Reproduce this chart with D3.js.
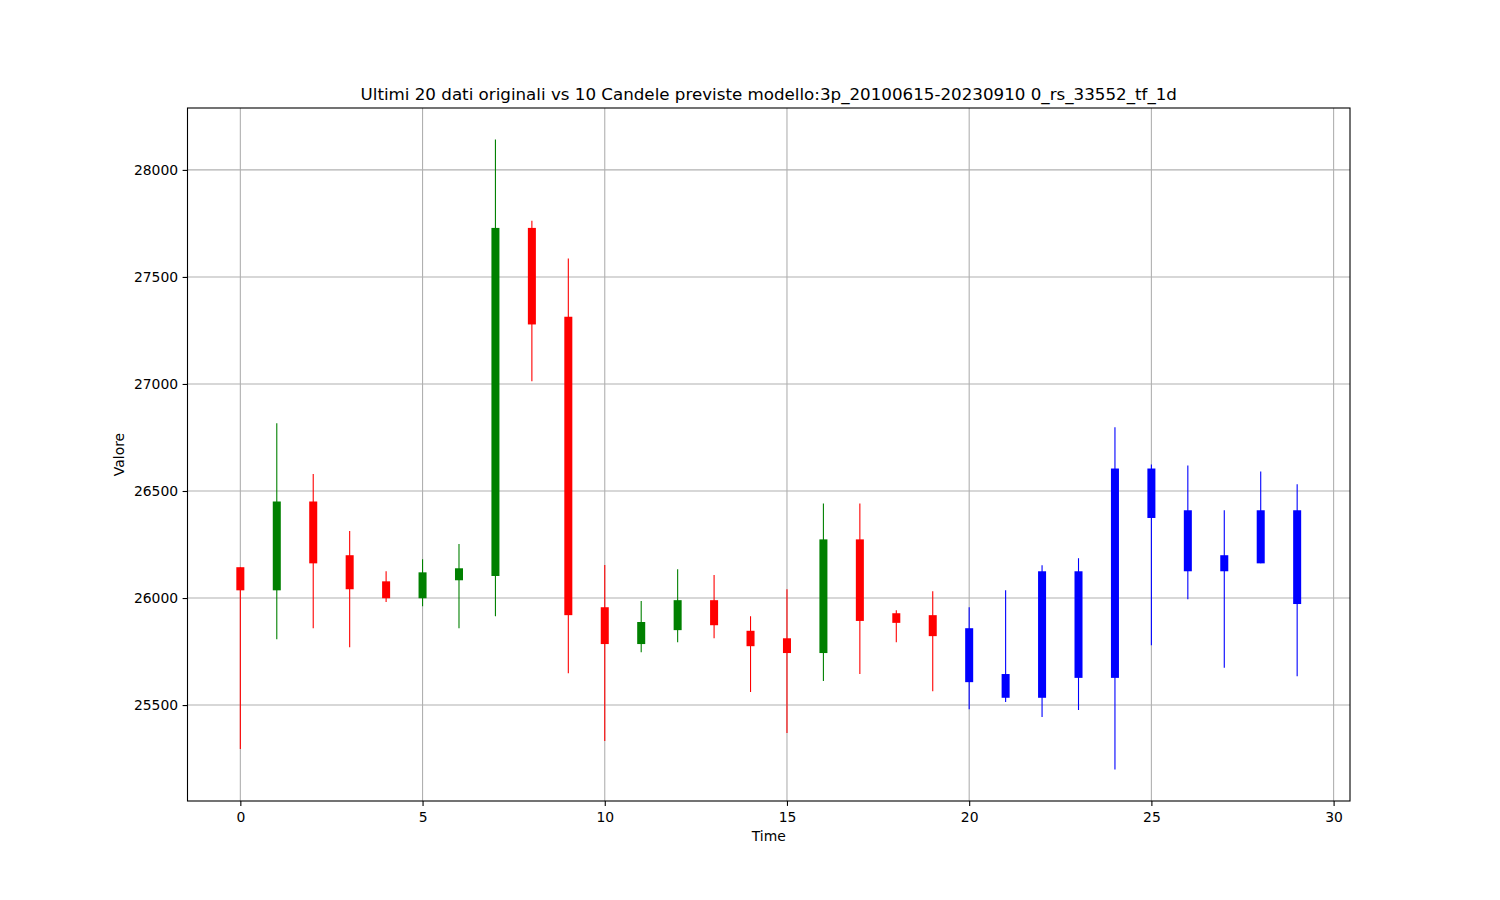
<!DOCTYPE html>
<html>
<head>
<meta charset="utf-8">
<script src="https://cdn.jsdelivr.net/npm/d3@7"></script>
<style>
  html, body { margin: 0; padding: 0; background: #fff; }
  svg { display: block; font-family: "DejaVu Sans", sans-serif; }
</style>
</head>
<body>
<svg id="chart" width="1500" height="900"></svg>
<script>
// ---- data ----
const times  = [0,1,2,3,4,5,6,7,8,9,10,11,12,13,14,15,16,17,18,19,20,21,22,23,24,25,26,27,28,29];
const opens  = [26144,26036,26451,26200,26078,25999,26083,26103,27729,27314,25957,25785,25850,25990,25847,25812,25743,26274,25929,25920,25859,25645,25534,25627,25627,26605,26410,26200,26162,26410];
const highs  = [26144,26817,26579,26313,26125,26181,26252,28142,27763,27586,26154,25986,26134,26108,25915,26041,26442,26442,25943,26032,25957,26036,26153,26186,26798,26624,26619,26410,26591,26531];
const lows   = [25295,25808,25859,25770,25982,25962,25859,25915,27013,25649,25332,25747,25794,25812,25561,25369,25612,25645,25794,25565,25481,25514,25444,25477,25199,25780,25994,25674,26162,25635];
const closes = [26036,26451,26162,26041,25999,26120,26139,27729,27278,25920,25785,25888,25990,25873,25775,25743,26274,25893,25884,25822,25607,25534,26125,26125,26605,26374,26125,26125,26410,25972];
const kinds  = ["orig","orig","orig","orig","orig","orig","orig","orig","orig","orig","orig","orig","orig","orig","orig","orig","orig","orig","orig","orig","pred","pred","pred","pred","pred","pred","pred","pred","pred","pred"];
const xTicks = [0,5,10,15,20,25,30];
const yTicks = [25500,26000,26500,27000,27500,28000];
const titleText = "Ultimi 20 dati originali vs 10 Candele previste modello:3p_20100615-20230910 0_rs_33552_tf_1d";

const candles = times.map((t,i)=>({t, o:opens[i], h:highs[i], l:lows[i], c:closes[i], kind:kinds[i]}));

// ---- layout ----
const L = 187.5, R = 1350, T = 108, B = 801;
const svg = d3.select("#chart");

const tMin = d3.min(times), tMax = d3.max(times);
const tPad = (tMax - tMin) * 0.05;
const x = d3.scaleLinear().domain([tMin - tPad, tMax + tPad]).range([L, R]);
const vMin = d3.min(lows), vMax = d3.max(highs);
const vPad = (vMax - vMin) * 0.05;
const y = d3.scaleLinear().domain([vMin - vPad, vMax + vPad]).range([B, T]);

const colorOf = d => d.kind === "pred" ? "#0000ff" : (d.c >= d.o ? "#008000" : "#ff0000");
const bodyW = x(0.22) - x(0);

// grid
const g = svg.append("g");
g.selectAll(".gx").data(xTicks).join("line")
  .attr("x1", d=>x(d)).attr("x2", d=>x(d)).attr("y1", T).attr("y2", B)
  .attr("stroke", "#b0b0b0").attr("stroke-width", 1.1);
g.selectAll(".gy").data(yTicks).join("line")
  .attr("x1", L).attr("x2", R).attr("y1", d=>y(d)).attr("y2", d=>y(d))
  .attr("stroke", "#b0b0b0").attr("stroke-width", 1.1);

// candles
const cg = svg.append("g");
cg.selectAll(".wick").data(candles).join("line")
  .attr("x1", d=>x(d.t)).attr("x2", d=>x(d.t))
  .attr("y1", d=>y(d.h)).attr("y2", d=>y(d.l))
  .attr("stroke", colorOf).attr("stroke-width", 1.1);
cg.selectAll(".body").data(candles).join("rect")
  .attr("x", d=>x(d.t) - bodyW/2)
  .attr("width", bodyW)
  .attr("y", d=>y(Math.max(d.o,d.c)))
  .attr("height", d=>Math.max(1, y(Math.min(d.o,d.c)) - y(Math.max(d.o,d.c))))
  .attr("fill", colorOf);

// axes
const xAxis = d3.axisBottom(x).tickValues(xTicks).tickSize(4.9).tickPadding(6.5).tickFormat(d3.format("d"));
const yAxis = d3.axisLeft(y).tickValues(yTicks).tickSize(4.9).tickPadding(4.5).tickFormat(d3.format("d"));
const xa = svg.append("g").attr("transform", `translate(0,${B})`).call(xAxis);
const ya = svg.append("g").attr("transform", `translate(${L},0)`).call(yAxis);
[xa, ya].forEach(a => {
  a.select(".domain").remove();
  a.selectAll("text").attr("font-size", 13.9).attr("fill", "#000").attr("font-family", "DejaVu Sans");
  a.selectAll("line").attr("stroke", "#000").attr("stroke-width", 1.1);
});

// frame
svg.append("rect").attr("x", L).attr("y", T).attr("width", R-L).attr("height", B-T)
  .attr("fill", "none").attr("stroke", "#000").attr("stroke-width", 1.1);

// labels
svg.append("text").attr("x", (L+R)/2).attr("y", 100).attr("text-anchor", "middle")
  .attr("font-size", 16.7).attr("fill", "#000").text(titleText);
svg.append("text").attr("x", (L+R)/2).attr("y", 841).attr("text-anchor", "middle")
  .attr("font-size", 13.9).attr("fill", "#000").text("Time");
svg.append("text").attr("transform", `translate(124,${(T+B)/2}) rotate(-90)`).attr("text-anchor", "middle")
  .attr("font-size", 13.9).attr("fill", "#000").text("Valore");
</script>
</body>
</html>
